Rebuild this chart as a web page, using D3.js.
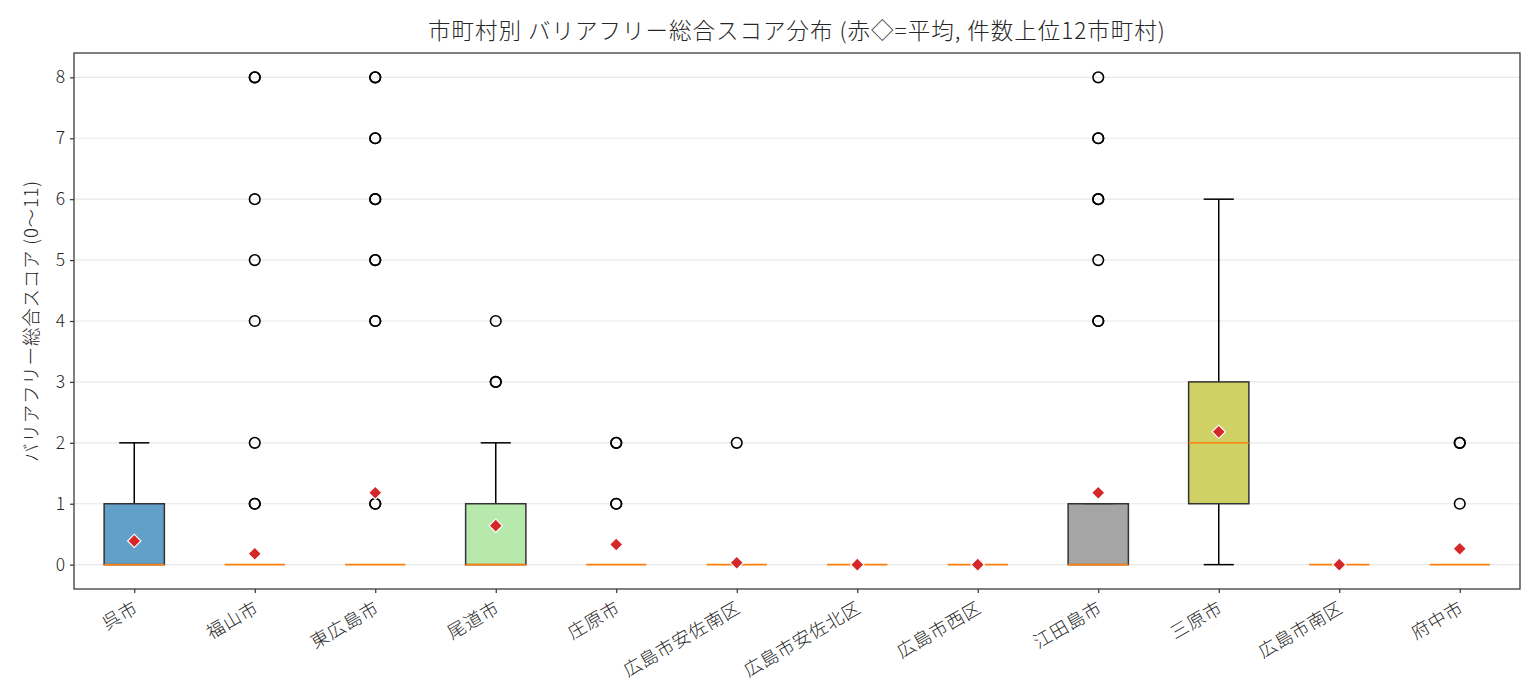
<!DOCTYPE html>
<html>
<head>
<meta charset="utf-8">
<script src="https://cdn.jsdelivr.net/npm/d3@7"></script>
<style>
body { margin: 0; background: #fff; }
text { font-family: "Noto Sans CJK JP", "Noto Sans", sans-serif; fill: #262626; font-weight: 300; }
</style>
</head>
<body>
<script>
// cities (top 12 by count) and box statistics
var cities = ["呉市", "福山市", "東広島市", "尾道市", "庄原市", "広島市安佐南区",
    "広島市安佐北区", "広島市西区", "江田島市", "三原市", "広島市南区", "府中市"];
var q1 = [0, 0, 0, 0, 0, 0, 0, 0, 0, 1, 0, 0];
var medians = [0, 0, 0, 0, 0, 0, 0, 0, 0, 2, 0, 0];
var q3 = [1, 0, 0, 1, 0, 0, 0, 0, 1, 3, 0, 0];
var whiskerLow = [0, 0, 0, 0, 0, 0, 0, 0, 0, 0, 0, 0];
var whiskerHigh = [2, 0, 0, 2, 0, 0, 0, 0, 1, 6, 0, 0];
var means = [0.39, 0.18, 1.18, 0.64, 0.33, 0.03, 0, 0, 1.18, 2.18, 0, 0.26];
// outliers (repeated values = overlapping points)
var fliers = [
    [],
    [1, 1, 2, 4, 5, 6, 8, 8],
    [1, 1, 4, 4, 5, 5, 6, 6, 7, 7, 8, 8],
    [3, 3, 4],
    [1, 1, 2, 2],
    [2],
    [],
    [],
    [4, 4, 5, 6, 6, 7, 7, 8],
    [],
    [],
    [1, 2, 2]
];
var yTicks = [0, 1, 2, 3, 4, 5, 6, 7, 8];

// tab20 sampled at 12 evenly spaced points
var boxColors = ["#1f77b4", "#aec7e8", "#ffbb78", "#98df8a", "#ff9896", "#c5b0d5",
    "#8c564b", "#e377c2", "#7f7f7f", "#bcbd22", "#17becf", "#9edae5"];

var width = 1540,
    height = 700;
var margin = {left: 74, right: 20, top: 53, bottom: 111};
var plotW = width - margin.left - margin.right,
    plotH = height - margin.top - margin.bottom;

var svg = d3.select("body")
    .append("svg")
    .attr("width", width)
    .attr("height", height);

var g = svg.append("g")
    .attr("transform", "translate(" + margin.left + "," + margin.top + ")");

var x = d3.scaleLinear()
    .domain([0.5, cities.length + 0.5])
    .range([0, plotW]);

var y = d3.scaleLinear()
    .domain([-0.4, 8.4])
    .range([plotH, 0]);

var boxW = x(1.25) - x(1);   // half box width in px
var capW = boxW / 2;

// grid
g.append("g")
    .selectAll("line")
    .data(yTicks)
    .enter()
    .append("line")
    .attr("x1", 0)
    .attr("x2", plotW)
    .attr("y1", function(d){ return y(d); })
    .attr("y2", function(d){ return y(d); })
    .attr("stroke", "#e8e8e8")
    .attr("stroke-width", 1.2);

var boxes = g.selectAll(".box")
    .data(cities)
    .enter()
    .append("g")
    .attr("class", "box")
    .attr("transform", function(d, i){ return "translate(" + x(i + 1) + ",0)"; });

// whiskers
boxes.append("line")
    .attr("y1", function(d, i){ return y(q3[i]); })
    .attr("y2", function(d, i){ return y(whiskerHigh[i]); })
    .attr("stroke", "#000").attr("stroke-width", 1.5);
boxes.append("line")
    .attr("y1", function(d, i){ return y(q1[i]); })
    .attr("y2", function(d, i){ return y(whiskerLow[i]); })
    .attr("stroke", "#000").attr("stroke-width", 1.5);

// caps (hidden under the median when they coincide)
boxes.append("line")
    .attr("x1", -capW).attr("x2", capW)
    .attr("y1", function(d, i){ return y(whiskerHigh[i]); })
    .attr("y2", function(d, i){ return y(whiskerHigh[i]); })
    .attr("stroke", "#000").attr("stroke-width", 1.5)
    .attr("stroke-opacity", function(d, i){ return whiskerHigh[i] === medians[i] ? 0 : 1; });
boxes.append("line")
    .attr("x1", -capW).attr("x2", capW)
    .attr("y1", function(d, i){ return y(whiskerLow[i]); })
    .attr("y2", function(d, i){ return y(whiskerLow[i]); })
    .attr("stroke", "#000").attr("stroke-width", 1.5)
    .attr("stroke-opacity", function(d, i){ return whiskerLow[i] === medians[i] ? 0 : 1; });

// box body
boxes.append("rect")
    .attr("x", -boxW)
    .attr("width", 2 * boxW)
    .attr("y", function(d, i){ return y(q3[i]); })
    .attr("height", function(d, i){ return y(q1[i]) - y(q3[i]); })
    .attr("fill", function(d, i){ return boxColors[i]; })
    .attr("fill-opacity", 0.7)
    .attr("stroke", "#333")
    .attr("stroke-opacity", function(d, i){ return q3[i] > q1[i] ? 1 : 0; })
    .attr("stroke-width", 1.5);

// median
boxes.append("line")
    .attr("x1", -boxW).attr("x2", boxW)
    .attr("y1", function(d, i){ return y(medians[i]); })
    .attr("y2", function(d, i){ return y(medians[i]); })
    .attr("stroke", "#ff7f0e").attr("stroke-width", 1.6);

// outliers
boxes.selectAll(".flier")
    .data(function(d, i){ return fliers[i]; })
    .enter()
    .append("circle")
    .attr("class", "flier")
    .attr("cy", function(v){ return y(v); })
    .attr("r", 5.3)
    .attr("fill", "none")
    .attr("stroke", "#000")
    .attr("stroke-width", 1.6);

// means
var diamond = d3.symbol().type(d3.symbolSquare).size(88);
boxes.append("path")
    .attr("d", diamond)
    .attr("transform", function(d, i){ return "translate(0," + y(means[i]) + ") rotate(45)"; })
    .attr("fill", "#d62728")
    .attr("stroke", "#fff")
    .attr("stroke-width", 1.2);

// axes
var yAxis = g.append("g")
    .call(d3.axisLeft(y).tickValues(yTicks).tickSize(4).tickPadding(5));
var xAxis = g.append("g")
    .attr("transform", "translate(0," + plotH + ")")
    .call(d3.axisBottom(x).tickValues(d3.range(1, cities.length + 1)).tickSize(4).tickFormat(""));

[yAxis, xAxis].forEach(function(a){
    a.select(".domain").remove();
    a.selectAll(".tick line").attr("stroke", "#333").attr("stroke-width", 1.2);
    a.selectAll(".tick text").style("font-size", "17.5px").attr("fill", "#262626");
});

// frame
g.append("rect")
    .attr("width", plotW)
    .attr("height", plotH)
    .attr("fill", "none")
    .attr("stroke", "#333")
    .attr("stroke-width", 1.25);

// rotated city labels
g.append("g")
    .selectAll("text")
    .data(cities)
    .enter()
    .append("text")
    .attr("transform", function(d, i){ return "translate(" + (x(i + 1) - 2) + "," + (plotH + 10) + ") rotate(-30)"; })
    .attr("text-anchor", "end")
    .attr("dy", "0.8em")
    .style("font-size", "18px")
    .style("letter-spacing", "0.8px")
    .text(function(d){ return d; });

// title and y label
svg.append("text")
    .attr("x", margin.left + plotW / 2)
    .attr("y", 39)
    .attr("text-anchor", "middle")
    .style("font-size", "22.5px")
    .style("letter-spacing", "1px")
    .text("市町村別 バリアフリー総合スコア分布 (赤◇=平均, 件数上位12市町村)");

svg.append("text")
    .attr("transform", "translate(38," + (margin.top + plotH / 2) + ") rotate(-90)")
    .attr("text-anchor", "middle")
    .style("font-size", "18.5px")
    .style("letter-spacing", "0.8px")
    .text("バリアフリー総合スコア (0〜11)");
</script>
</body>
</html>
